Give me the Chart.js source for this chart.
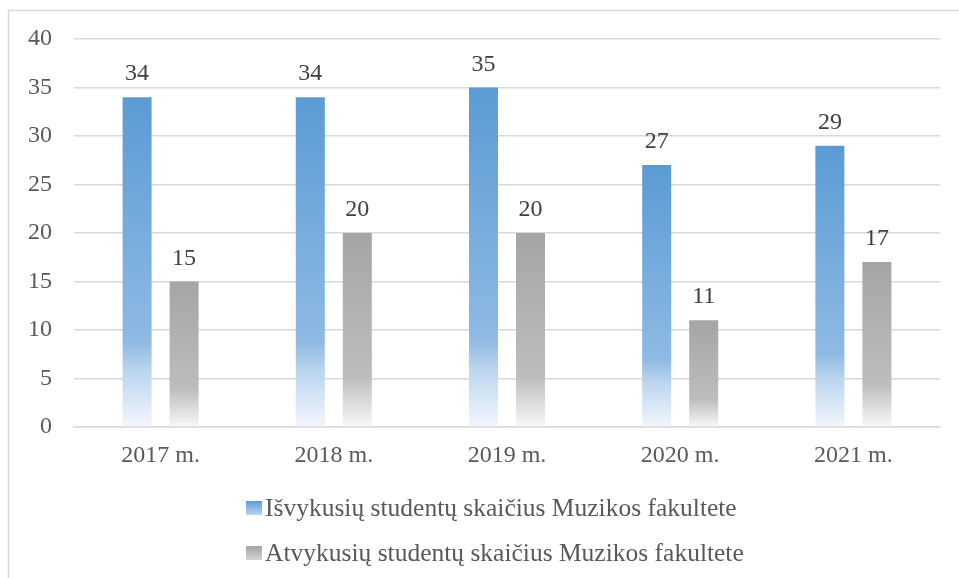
<!DOCTYPE html>
<html>
<head>
<meta charset="utf-8">
<script src="https://cdn.jsdelivr.net/npm/chart.js@4/dist/chart.umd.min.js"></script>
<style>
html,body{margin:0;padding:0;background:#fff;}
#wrap{width:959px;height:578px;position:relative;}
</style>
</head>
<body>
<div id="wrap"><canvas id="c" width="959" height="578"></canvas></div>
<script>
const categories = ["2017 m.", "2018 m.", "2019 m.", "2020 m.", "2021 m."];
const seriesNames = ["Išvykusių studentų skaičius Muzikos fakultete", "Atvykusių studentų skaičius Muzikos fakultete"];
const departed = [34, 34, 35, 27, 29];
const arrived = [15, 20, 20, 11, 17];
const yTicks = [0, 5, 10, 15, 20, 25, 30, 35, 40];

const FONT = "'Liberation Serif', 'Times New Roman', serif";
const blueStops = [[0, '#5B9BD5'], [0.74, '#8EBAE3'], [0.83, '#BBD5EE'], [1, '#F3F7FC']];
const grayStops = [[0, '#A5A5A5'], [0.74, '#BDBDBD'], [0.83, '#D2D2D2'], [1, '#F8F8F8']];

function barGradient(stops, solid) {
  return function(ctx) {
    const chart = ctx.chart;
    if (!chart.chartArea || ctx.type !== 'data') return solid;
    const y = chart.scales.y;
    const top = y.getPixelForValue(ctx.raw);
    const bottom = y.getPixelForValue(0);
    if (!isFinite(top) || !isFinite(bottom) || top === bottom) return solid;
    const g = chart.ctx.createLinearGradient(0, top, 0, bottom);
    stops.forEach(s => g.addColorStop(s[0], s[1]));
    return g;
  };
}

const borderPlugin = {
  id: 'outerBorder',
  beforeDraw(chart) {
    const c = chart.ctx;
    c.save();
    c.fillStyle = '#fff';
    c.fillRect(0, 0, chart.width, chart.height);
    c.strokeStyle = '#D9D9D9';
    c.lineWidth = 1.5;
    c.strokeRect(8.5, 10.5, 1200, 1200);
    c.restore();
  }
};

const valueLabels = {
  id: 'valueLabels',
  afterDatasetsDraw(chart) {
    const c = chart.ctx;
    c.save();
    c.font = '24px ' + FONT;
    c.fillStyle = '#404040';
    c.textAlign = 'center';
    c.textBaseline = 'alphabetic';
    chart.data.datasets.forEach((ds, i) => {
      const meta = chart.getDatasetMeta(i);
      meta.data.forEach((bar, j) => {
        c.fillText(String(ds.data[j]), bar.x, bar.y - 17);
      });
    });
    c.restore();
  }
};

const customLegend = {
  id: 'customLegend',
  afterDraw(chart) {
    const c = chart.ctx;
    c.save();
    c.font = '25.5px ' + FONT;
    c.textAlign = 'left';
    c.textBaseline = 'middle';
    const rows = [508, 553];
    const stopsList = [blueStops, grayStops];
    chart.data.datasets.forEach((ds, i) => {
      const yc = rows[i];
      const bx = 246, by = yc - 7, bw = 16, bh = 14;
      const g = c.createLinearGradient(0, by, 0, by + bh);
      const st = stopsList[i];
      g.addColorStop(0, st[0][1]);
      g.addColorStop(1, st[2][1]);
      c.fillStyle = g;
      c.fillRect(bx, by, bw, bh);
      c.fillStyle = '#595959';
      c.fillText(ds.label, 265, yc + 1);
    });
    c.restore();
  }
};

new Chart(document.getElementById('c'), {
  type: 'bar',
  data: {
    labels: categories,
    datasets: [
      { label: seriesNames[0], data: departed, backgroundColor: barGradient(blueStops, '#5B9BD5'), borderWidth: 0 },
      { label: seriesNames[1], data: arrived, backgroundColor: barGradient(grayStops, '#A5A5A5'), borderWidth: 0 }
    ]
  },
  options: {
    responsive: false,
    animation: false,
    devicePixelRatio: 1,
    categoryPercentage: 0.543,
    barPercentage: 0.617,
    layout: { padding: { left: 0, right: 19, top: 39, bottom: 0 } },
    plugins: {
      legend: { display: false },
      tooltip: { enabled: false }
    },
    scales: {
      x: {
        grid: { display: false, drawTicks: false },
        border: { display: true, color: '#D9D9D9', width: 1.5 },
        ticks: { color: '#595959', font: { family: FONT, size: 24 }, padding: 14 },
        afterFit(scale) { scale.height = 151; }
      },
      y: {
        min: 0, max: 40,
        afterBuildTicks(scale) { scale.ticks = yTicks.map(v => ({ value: v })); },
        grid: { color: '#D9D9D9', lineWidth: 1.5, drawTicks: false },
        border: { display: false },
        ticks: { color: '#595959', font: { family: FONT, size: 24 }, padding: 22 },
        afterFit(scale) { scale.width = 74; }
      }
    }
  },
  plugins: [borderPlugin, valueLabels, customLegend]
});
</script>
</body>
</html>
